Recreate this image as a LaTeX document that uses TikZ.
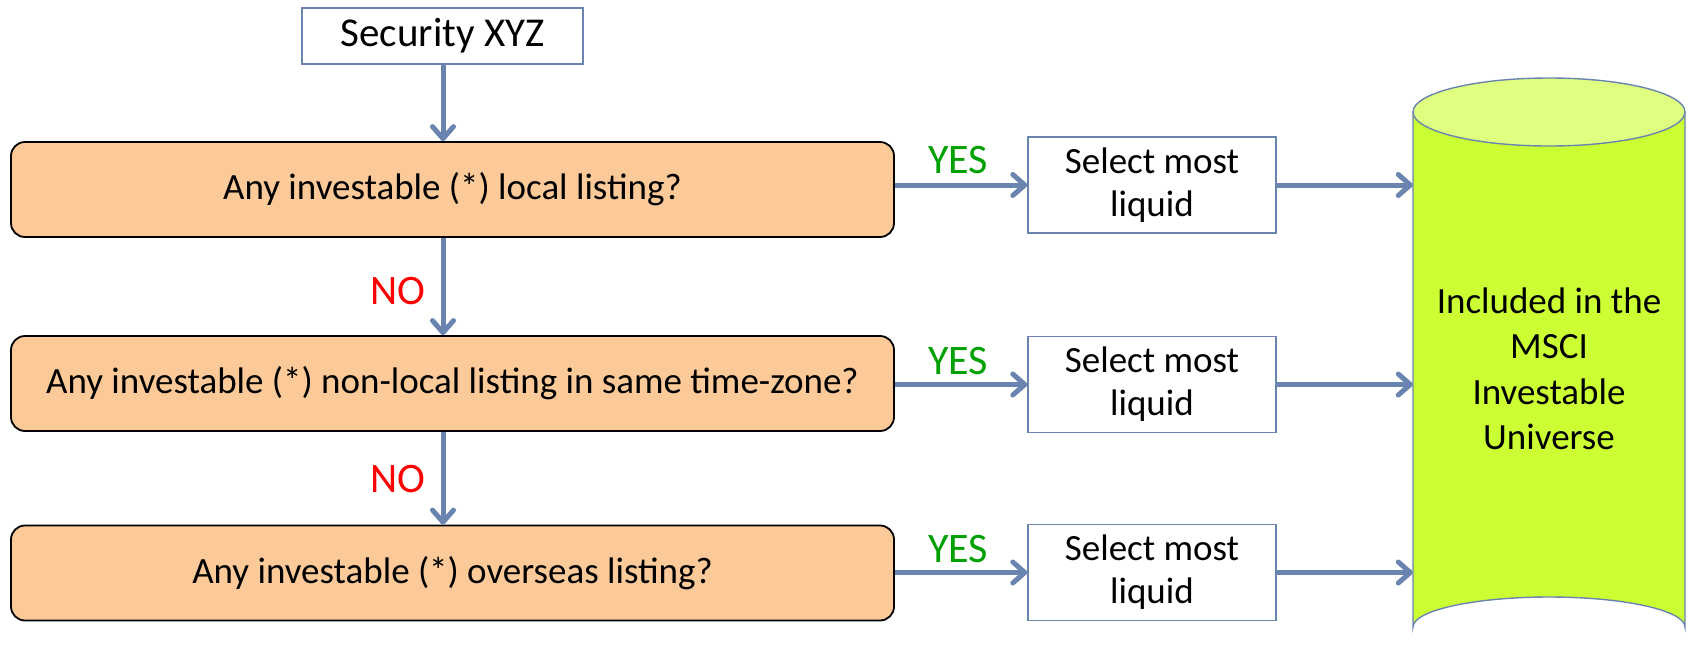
\documentclass[tikz,border=0pt]{standalone}
\usepackage{fontspec}
\setmainfont{Carlito}
\usetikzlibrary{arrows.meta,positioning}
\definecolor{arrowblue}{RGB}{106,132,176}
\definecolor{boxorange}{RGB}{252,202,152}
\definecolor{cylbody}{RGB}{204,255,51}
\definecolor{cyltop}{RGB}{223,255,128}
\definecolor{yesgreen}{RGB}{0,160,0}
\definecolor{nored}{RGB}{255,0,0}
\tikzset{
  flow/.style={draw=arrowblue, line width=5pt, -{Straight Barb[length=12pt,width=21pt,round]}},
  qbox/.style={draw=black, line width=1.8pt, fill=boxorange, rounded corners=14pt,
    minimum width=883pt, minimum height=95pt, font=\fontsize{37}{44}\selectfont, inner sep=0pt},
  sbox/.style={draw=arrowblue, line width=1.4pt, fill=white, align=center,
    minimum width=248pt, minimum height=96pt, font=\fontsize{37}{43}\selectfont, inner sep=0pt},
  yeslbl/.style={text=yesgreen, font=\fontsize{42}{46}\selectfont},
  nolbl/.style={text=nored, font=\fontsize{42}{46}\selectfont},
}
\begin{document}
\begin{tikzpicture}[x=1pt,y=-1pt]
\useasboundingbox (0,0) rectangle (1688,657);
% cylinder
\node[minimum width=272pt, minimum height=515pt, inner sep=0pt] (cyl) at (1549,369.5) {};
\fill[cylbody] (1413,112) -- (1413,627) arc[start angle=180,end angle=360,x radius=136,y radius=30] -- (1685,112) -- cycle;
\draw[arrowblue, line width=1.4pt] (1413,112) -- (1413,627) arc[start angle=180,end angle=360,x radius=136,y radius=30] -- (1685,112);
\draw[arrowblue, line width=1.4pt, fill=cyltop] (1549,112) ellipse[x radius=136, y radius=34];
\node[align=center, font=\fontsize{37}{45.5}\selectfont] (cyltext) at (1549,369) {Included in the\\MSCI\\Investable\\Universe};
% main column
\node[draw=arrowblue, line width=1.4pt, fill=white, minimum width=281pt, minimum height=56pt,
  inner sep=0pt, font=\fontsize{41}{48}\selectfont] (sec) at (442.5,36) {Security XYZ};
\node[qbox] (q1) at (452.5,189.5) {Any investable (*) local listing?};
\node[qbox] (q2) at (452.5,383.5) {Any investable (*) non-local listing in same time-zone?};
\node[qbox] (q3) at (452.5,573) {Any investable (*) overseas listing?};
\node[sbox] (s1) at (1152,185) {Select most\\liquid};
\node[sbox] (s2) at (1152,384.5) {Select most\\liquid};
\node[sbox] (s3) at (1152,572.5) {Select most\\liquid};
% vertical arrows
\draw[flow] (sec.south -| 443,0) -- (q1.north -| 443,0);
\draw[flow] (q1.south -| 443,0) -- (q2.north -| 443,0);
\draw[flow] (q2.south -| 443,0) -- (q3.north -| 443,0);
\node[nolbl] (no1) at (398,291) {NO};
\node[nolbl] (no2) at (398,479) {NO};
% yes arrows
\draw[flow] (q1.east |- s1.west) -- (s1.west);
\draw[flow] (q2.east |- s2.west) -- (s2.west);
\draw[flow] (q3.east |- s3.west) -- (s3.west);
\node[yeslbl] (y1) at (958,160) {YES};
\node[yeslbl] (y2) at (958,361) {YES};
\node[yeslbl] (y3) at (958,549) {YES};
% to cylinder
\draw[flow] (s1.east) -- (cyl.west |- s1.east);
\draw[flow] (s2.east) -- (cyl.west |- s2.east);
\draw[flow] (s3.east) -- (cyl.west |- s3.east);
\end{tikzpicture}
\end{document}
